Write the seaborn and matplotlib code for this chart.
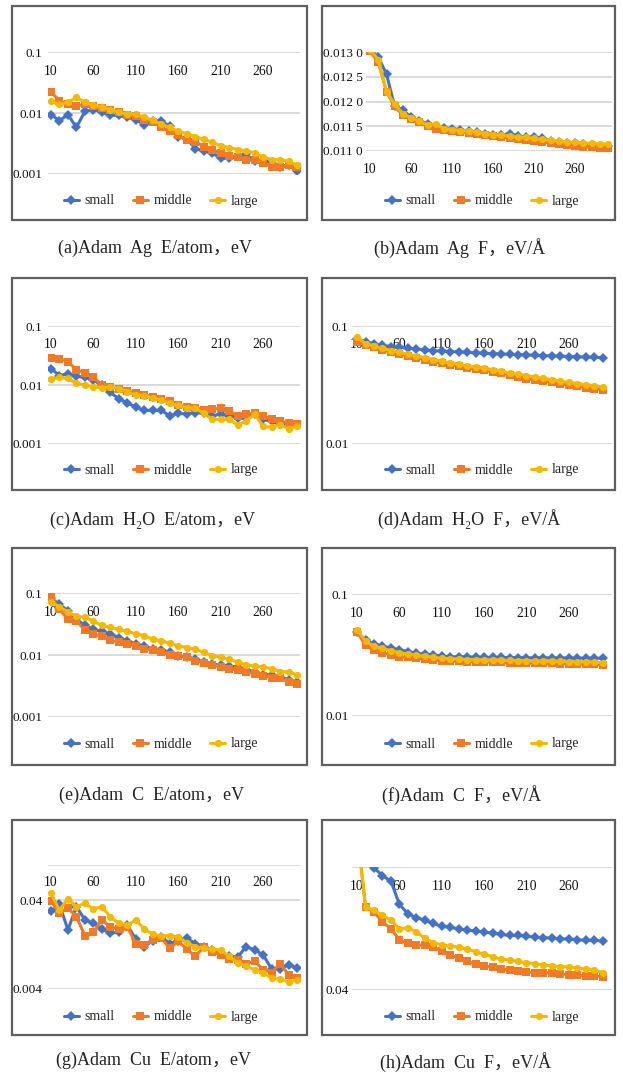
import numpy as np
import pandas as pd
import matplotlib
matplotlib.use("Agg")
import matplotlib.pyplot as plt
from matplotlib.patches import Rectangle
from matplotlib.ticker import NullLocator
import seaborn as sns

# ---------------- data ----------------
STEPS = list(range(10, 301, 10))
XTICKS = [10, 60, 110, 160, 210, 260]
SERIES = ["small", "middle", "large"]

AG_E_SMALL = [0.0094, 0.0075, 0.0094, 0.0058, 0.0107, 0.0114, 0.0103, 0.0092, 0.0091, 0.0085,
              0.0078, 0.0064, 0.0073, 0.0075, 0.0060, 0.0041, 0.0038, 0.0026, 0.0024, 0.0022,
              0.0018, 0.0018, 0.0020, 0.0021, 0.0016, 0.0017, 0.0015, 0.0013, 0.0014, 0.0011]
AG_E_MIDDLE = [0.022, 0.016, 0.014, 0.013, 0.014, 0.013, 0.012, 0.011, 0.0105, 0.0092,
               0.0088, 0.0076, 0.0072, 0.0058, 0.0050, 0.0043, 0.0036, 0.0034, 0.0028, 0.0025,
               0.0022, 0.0020, 0.0019, 0.0017, 0.0017, 0.0015, 0.0013, 0.0013, 0.0014, 0.0013]
AG_E_LARGE = [0.0155, 0.014, 0.015, 0.018, 0.015, 0.0135, 0.0125, 0.0113, 0.0105, 0.0095,
              0.0095, 0.0085, 0.0076, 0.0066, 0.0058, 0.0050, 0.0046, 0.0041, 0.0037, 0.0033,
              0.0029, 0.0027, 0.0025, 0.0024, 0.0022, 0.0019, 0.0017, 0.0017, 0.0016, 0.0014]

AG_F_SMALL = [0.01305, 0.0129, 0.01255, 0.0119, 0.01183, 0.01168, 0.0116, 0.01155, 0.0115, 0.01147,
              0.01145, 0.01143, 0.0114, 0.01138, 0.01135, 0.01133, 0.01132, 0.01135, 0.0113, 0.01128,
              0.01128, 0.01126, 0.0112, 0.01118, 0.01116, 0.01115, 0.01113, 0.01112, 0.0111, 0.0111]
AG_F_MIDDLE = [0.01302, 0.0128, 0.0122, 0.0119, 0.01172, 0.01165, 0.01158, 0.0115, 0.01145, 0.01142,
               0.0114, 0.01138, 0.01137, 0.01135, 0.01132, 0.0113, 0.01128, 0.01126, 0.01124, 0.01122,
               0.0112, 0.01118, 0.01116, 0.01114, 0.01112, 0.0111, 0.01108, 0.01107, 0.01106, 0.01105]
AG_F_LARGE = [0.01305, 0.01285, 0.0122, 0.01195, 0.01175, 0.01167, 0.0116, 0.01152, 0.01155, 0.01145,
              0.01143, 0.01141, 0.0114, 0.01138, 0.01135, 0.01133, 0.01132, 0.0113, 0.01128, 0.01127,
              0.01125, 0.01123, 0.01121, 0.0112, 0.01118, 0.01117, 0.01116, 0.01115, 0.01114, 0.01113]

H2O_E_SMALL = [0.019, 0.0145, 0.0155, 0.014, 0.0135, 0.012, 0.010, 0.0075, 0.0058, 0.0050,
               0.0042, 0.0037, 0.0037, 0.0037, 0.0030, 0.0033, 0.0032, 0.0034, 0.0033, 0.0030,
               0.0032, 0.0030, 0.0028, 0.0027, 0.0032, 0.0026, 0.0024, 0.0022, 0.0022, 0.0021]
H2O_E_MIDDLE = [0.029, 0.028, 0.025, 0.018, 0.016, 0.0135, 0.010, 0.0093, 0.0087, 0.0080,
                0.0074, 0.0068, 0.0063, 0.0058, 0.0054, 0.0045, 0.0043, 0.0041, 0.0038, 0.0039,
                0.0040, 0.0036, 0.0030, 0.0032, 0.0033, 0.0030, 0.0026, 0.0024, 0.0023, 0.0022]
H2O_E_LARGE = [0.0125, 0.0135, 0.013, 0.0107, 0.010, 0.0093, 0.0090, 0.0093, 0.0087, 0.0077,
               0.0068, 0.0066, 0.0060, 0.0055, 0.0049, 0.0045, 0.0041, 0.0040, 0.0033, 0.0026,
               0.0026, 0.0026, 0.0021, 0.0024, 0.0032, 0.0020, 0.0019, 0.0021, 0.0018, 0.0020]

H2O_F_SMALL = [0.078, 0.074, 0.071, 0.069, 0.067, 0.066, 0.065, 0.064, 0.063, 0.062,
               0.0615, 0.061, 0.0605, 0.060, 0.0595, 0.059, 0.0585, 0.058, 0.0578, 0.0575,
               0.057, 0.0567, 0.0563, 0.056, 0.0557, 0.0553, 0.055, 0.0547, 0.0545, 0.054]
H2O_F_MIDDLE = [0.073, 0.069, 0.066, 0.063, 0.060, 0.058, 0.056, 0.054, 0.052, 0.050,
                0.0487, 0.047, 0.0455, 0.044, 0.043, 0.0422, 0.041, 0.040, 0.0385, 0.037,
                0.0359, 0.035, 0.034, 0.0333, 0.0325, 0.0315, 0.031, 0.030, 0.0295, 0.0287]
H2O_F_LARGE = [0.081, 0.071, 0.068, 0.065, 0.062, 0.060, 0.058, 0.056, 0.054, 0.052,
               0.0505, 0.049, 0.0475, 0.046, 0.045, 0.044, 0.0428, 0.0417, 0.040, 0.039,
               0.038, 0.037, 0.036, 0.035, 0.034, 0.0333, 0.0325, 0.0318, 0.031, 0.0305]

C_E_SMALL = [0.083, 0.066, 0.052, 0.038, 0.030, 0.026, 0.024, 0.022, 0.019, 0.017,
             0.015, 0.0138, 0.0127, 0.0122, 0.011, 0.0098, 0.0092, 0.0086, 0.0078, 0.0072,
             0.0068, 0.0066, 0.0064, 0.0057, 0.0054, 0.0048, 0.0048, 0.0044, 0.0040, 0.0036]
C_E_MIDDLE = [0.088, 0.055, 0.038, 0.036, 0.025, 0.022, 0.020, 0.0175, 0.016, 0.0152,
              0.0138, 0.0127, 0.012, 0.0113, 0.010, 0.0095, 0.0092, 0.0081, 0.0075, 0.0070,
              0.0064, 0.0060, 0.0057, 0.0053, 0.0050, 0.0046, 0.0043, 0.0042, 0.0037, 0.0034]
C_E_LARGE = [0.072, 0.060, 0.050, 0.042, 0.041, 0.035, 0.030, 0.028, 0.026, 0.024,
             0.022, 0.0205, 0.018, 0.017, 0.0155, 0.014, 0.0132, 0.0124, 0.011, 0.0098,
             0.0092, 0.0085, 0.0077, 0.0070, 0.0066, 0.0064, 0.0060, 0.0054, 0.0053, 0.0048]

C_F_SMALL = [0.049, 0.042, 0.039, 0.0375, 0.036, 0.035, 0.0337, 0.0327, 0.0322, 0.0316,
             0.031, 0.0306, 0.0306, 0.0305, 0.0304, 0.0303, 0.0302, 0.0302, 0.0301, 0.0301,
             0.030, 0.030, 0.030, 0.0299, 0.0299, 0.0299, 0.0298, 0.0298, 0.0298, 0.0297]
C_F_MIDDLE = [0.049, 0.038, 0.035, 0.033, 0.0316, 0.0306, 0.0302, 0.0297, 0.0291, 0.0288,
              0.0284, 0.0282, 0.028, 0.0279, 0.0278, 0.0277, 0.0276, 0.0275, 0.0274, 0.0273,
              0.0272, 0.0271, 0.027, 0.027, 0.0269, 0.0268, 0.0267, 0.0266, 0.0265, 0.0260]
C_F_LARGE = [0.051, 0.041, 0.0375, 0.036, 0.0343, 0.0331, 0.0322, 0.0316, 0.031, 0.0302,
             0.0298, 0.0295, 0.0292, 0.029, 0.0289, 0.0288, 0.0287, 0.0286, 0.0285, 0.0284,
             0.0283, 0.0282, 0.0281, 0.028, 0.028, 0.0279, 0.0278, 0.0277, 0.0276, 0.0273]

CU_E_SMALL = [0.030, 0.036, 0.0186, 0.034, 0.024, 0.022, 0.019, 0.017, 0.0175, 0.021,
              0.0145, 0.012, 0.014, 0.0155, 0.013, 0.014, 0.015, 0.013, 0.012, 0.011,
              0.010, 0.0093, 0.0091, 0.012, 0.011, 0.0097, 0.0067, 0.0067, 0.0075, 0.0069]
CU_E_MIDDLE = [0.039, 0.029, 0.033, 0.026, 0.016, 0.0175, 0.024, 0.020, 0.019, 0.020,
               0.013, 0.0125, 0.0142, 0.015, 0.0115, 0.0138, 0.0112, 0.0093, 0.0118, 0.0105,
               0.0097, 0.0087, 0.0084, 0.0077, 0.0082, 0.0066, 0.0061, 0.0077, 0.0058, 0.0053]
CU_E_LARGE = [0.048, 0.031, 0.042, 0.034, 0.037, 0.032, 0.034, 0.026, 0.022, 0.021,
              0.024, 0.019, 0.0165, 0.0158, 0.016, 0.0155, 0.0133, 0.012, 0.0115, 0.0112,
              0.011, 0.0093, 0.0079, 0.0072, 0.0066, 0.0061, 0.0053, 0.0051, 0.0048, 0.0050]

CU_F_SMALL = [0.70, 0.55, 0.396, 0.342, 0.308, 0.199, 0.167, 0.155, 0.148, 0.139,
              0.132, 0.129, 0.126, 0.122, 0.121, 0.118, 0.116, 0.113, 0.111, 0.111,
              0.109, 0.108, 0.106, 0.106, 0.104, 0.104, 0.1025, 0.101, 0.101, 0.100]
CU_F_MIDDLE = [0.80, 0.19, 0.173, 0.143, 0.126, 0.102, 0.0955, 0.0927, 0.0925, 0.0887,
               0.0834, 0.077, 0.0722, 0.068, 0.065, 0.0626, 0.0612, 0.059, 0.058, 0.0572,
               0.056, 0.0552, 0.0551, 0.0546, 0.054, 0.0529, 0.0528, 0.052, 0.0519, 0.051]
CU_F_LARGE = [0.80, 0.19, 0.178, 0.162, 0.148, 0.126, 0.128, 0.119, 0.105, 0.097,
              0.093, 0.091, 0.089, 0.0855, 0.082, 0.078, 0.0745, 0.071, 0.070, 0.068,
              0.0667, 0.065, 0.0639, 0.0626, 0.0618, 0.0612, 0.060, 0.059, 0.058, 0.0552]

CAPTIONS = ["(a)Adam  Ag  E/atom，eV", "(b)Adam  Ag  F，eV/Å",
            "(c)Adam  H₂O  E/atom，eV", "(d)Adam  H₂O  F，eV/Å",
            "(e)Adam  C  E/atom，eV", "(f)Adam  C  F，eV/Å",
            "(g)Adam  Cu  E/atom，eV", "(h)Adam  Cu  F，eV/Å"]

# ---------------- style ----------------
sns.set_style("white")
SERIF = ["Liberation Serif", "DejaVu Serif", "Noto Sans CJK SC"]
plt.rcParams["font.family"] = SERIF
plt.rcParams["axes.unicode_minus"] = False

PALETTE = {"small": "#4472C4", "middle": "#F07A28", "large": "#F5B800"}
MARKERS = {"small": "D", "middle": "s", "large": "o"}

W, H = 623, 1072
fig = plt.figure(figsize=(W / 100, H / 100), dpi=100)


def frac_rect(x0, y0, x1, y1):
    return [x0 / W, 1 - y1 / H, (x1 - x0) / W, (y1 - y0) / H]


panels = [
    dict(data=(AG_E_SMALL, AG_E_MIDDLE, AG_E_LARGE), ax=(48, 52, 300, 174), box=(12, 6, 307, 220),
         log=True, ylim=(0.001, 0.1), yt=[0.001, 0.01, 0.1], ytl=["0.001", "0.01", "0.1"],
         xlim=(6.5, 303.5), leg=(161, 201), cap=(155, 248), xpad=-19, top=True),
    dict(data=(AG_F_SMALL, AG_F_MIDDLE, AG_F_LARGE), ax=(366, 52, 612, 151), box=(322, 6, 615, 220),
         log=False, ylim=(0.0110, 0.0130), yt=[0.0110, 0.0115, 0.0120, 0.0125, 0.0130],
         ytl=["0.011 0", "0.011 5", "0.012 0", "0.012 5", "0.013 0"],
         xlim=(5, 305), leg=(482, 201), cap=(460, 248), xpad=8.5, top=False),
    dict(data=(H2O_E_SMALL, H2O_E_MIDDLE, H2O_E_LARGE), ax=(48, 326, 300, 444), box=(12, 278, 307, 490),
         log=True, ylim=(0.001, 0.1), yt=[0.001, 0.01, 0.1], ytl=["0.001", "0.01", "0.1"],
         xlim=(6.5, 303.5), leg=(161, 470), cap=(153, 520), xpad=-18, top=True),
    dict(data=(H2O_F_SMALL, H2O_F_MIDDLE, H2O_F_LARGE), ax=(352, 326, 612, 444), box=(322, 278, 615, 490),
         log=True, ylim=(0.01, 0.1), yt=[0.01, 0.1], ytl=["0.01", "0.1"],
         xlim=(4, 311), leg=(482, 470), cap=(469, 519), xpad=-18, top=True),
    dict(data=(C_E_SMALL, C_E_MIDDLE, C_E_LARGE), ax=(48, 593, 300, 717), box=(12, 548, 307, 765),
         log=True, ylim=(0.001, 0.1), yt=[0.001, 0.01, 0.1], ytl=["0.001", "0.01", "0.1"],
         xlim=(6.5, 303.5), leg=(161, 744), cap=(152, 795), xpad=-18.5, top=True),
    dict(data=(C_F_SMALL, C_F_MIDDLE, C_F_LARGE), ax=(352, 594, 612, 716), box=(322, 548, 615, 765),
         log=True, ylim=(0.01, 0.1), yt=[0.01, 0.1], ytl=["0.01", "0.1"],
         xlim=(4, 311), leg=(482, 744), cap=(462, 795), xpad=-18.5, top=True),
    dict(data=(CU_E_SMALL, CU_E_MIDDLE, CU_E_LARGE), ax=(48, 865, 300, 989), box=(12, 820, 307, 1035),
         log=True, ylim=(0.004, 0.1), yt=[0.004, 0.04, 0.1], ytl=["0.004", "0.04", ""],
         xlim=(6.5, 303.5), leg=(161, 1017), cap=(154, 1060), xpad=-17.5, top=True),
    dict(data=(CU_F_SMALL, CU_F_MIDDLE, CU_F_LARGE), ax=(352, 867, 612, 990), box=(322, 820, 615, 1035),
         log=True, ylim=(0.04, 0.4), yt=[0.04, 0.4], ytl=["0.04", ""],
         xlim=(4, 311), leg=(482, 1017), cap=(466, 1062), xpad=-18.5, top=True),
]

for i, p in enumerate(panels):
    ax = fig.add_axes(frac_rect(*p["ax"]))
    s, m, l = p["data"]
    df = pd.DataFrame({
        "step": STEPS * 3,
        "value": list(s) + list(m) + list(l),
        "size": ["small"] * 30 + ["middle"] * 30 + ["large"] * 30,
    })
    sns.lineplot(data=df, x="step", y="value", hue="size", style="size",
                 hue_order=SERIES, style_order=SERIES, palette=PALETTE,
                 markers=MARKERS, dashes=False, linewidth=2.2, markersize=5.2,
                 markeredgewidth=0, ax=ax, legend=True)
    if p["log"]:
        ax.set_yscale("log")
        ax.set_ylim(p["ylim"][0] / 1.006, p["ylim"][1] * 1.006)
    else:
        ax.set_ylim(p["ylim"][0] - 0.000004, p["ylim"][1] + 0.000004)
    ax.set_yticks(p["yt"])
    ax.set_yticklabels(p["ytl"])
    ax.yaxis.set_minor_locator(NullLocator())
    ax.set_xlim(*p["xlim"])
    ax.set_xticks(XTICKS)
    ax.set_xticklabels([str(t) for t in XTICKS])
    ax.set_xlabel("")
    ax.set_ylabel("")
    for sp in ax.spines.values():
        sp.set_visible(False)
    ax.set_axisbelow(True)
    ax.yaxis.grid(True, color="#D9D9D9", linewidth=1.4)
    ax.xaxis.grid(False)
    ax.tick_params(axis="y", length=0, labelsize=9.5, pad=4 if i % 2 == 0 else 2.5,
                   colors="#111111")
    if p["top"]:
        ax.tick_params(axis="x", which="both", length=0, bottom=False, top=False,
                       labelbottom=False, labeltop=True, pad=p["xpad"], labelsize=9.8,
                       colors="#111111")
    else:
        ax.tick_params(axis="x", which="both", length=0, bottom=False, top=False,
                       labelbottom=True, labeltop=False, pad=p["xpad"], labelsize=9.8,
                       colors="#111111")
    ax.patch.set_alpha(0)

    handles, labels = ax.get_legend_handles_labels()
    if ax.get_legend() is not None:
        ax.get_legend().remove()
    cx, cy = p["leg"]
    ax.legend(handles, labels, loc="center", bbox_to_anchor=(cx / W, 1 - cy / H),
              bbox_transform=fig.transFigure, ncol=3, frameon=False, fontsize=10,
              handlelength=1.1, handletextpad=0.4, columnspacing=1.3, borderpad=0)

    bx0, by0, bx1, by1 = p["box"]
    fig.add_artist(Rectangle((bx0 / W, 1 - by1 / H), (bx1 - bx0) / W, (by1 - by0) / H,
                             transform=fig.transFigure, fill=False,
                             edgecolor="#5E5E5E", linewidth=1.6))
    ccx, ccy = p["cap"]
    fig.text(ccx / W, 1 - ccy / H, CAPTIONS[i], ha="center", va="center",
             fontsize=13, family=SERIF, color="#222222")

fig.savefig("out.png", dpi=100)
